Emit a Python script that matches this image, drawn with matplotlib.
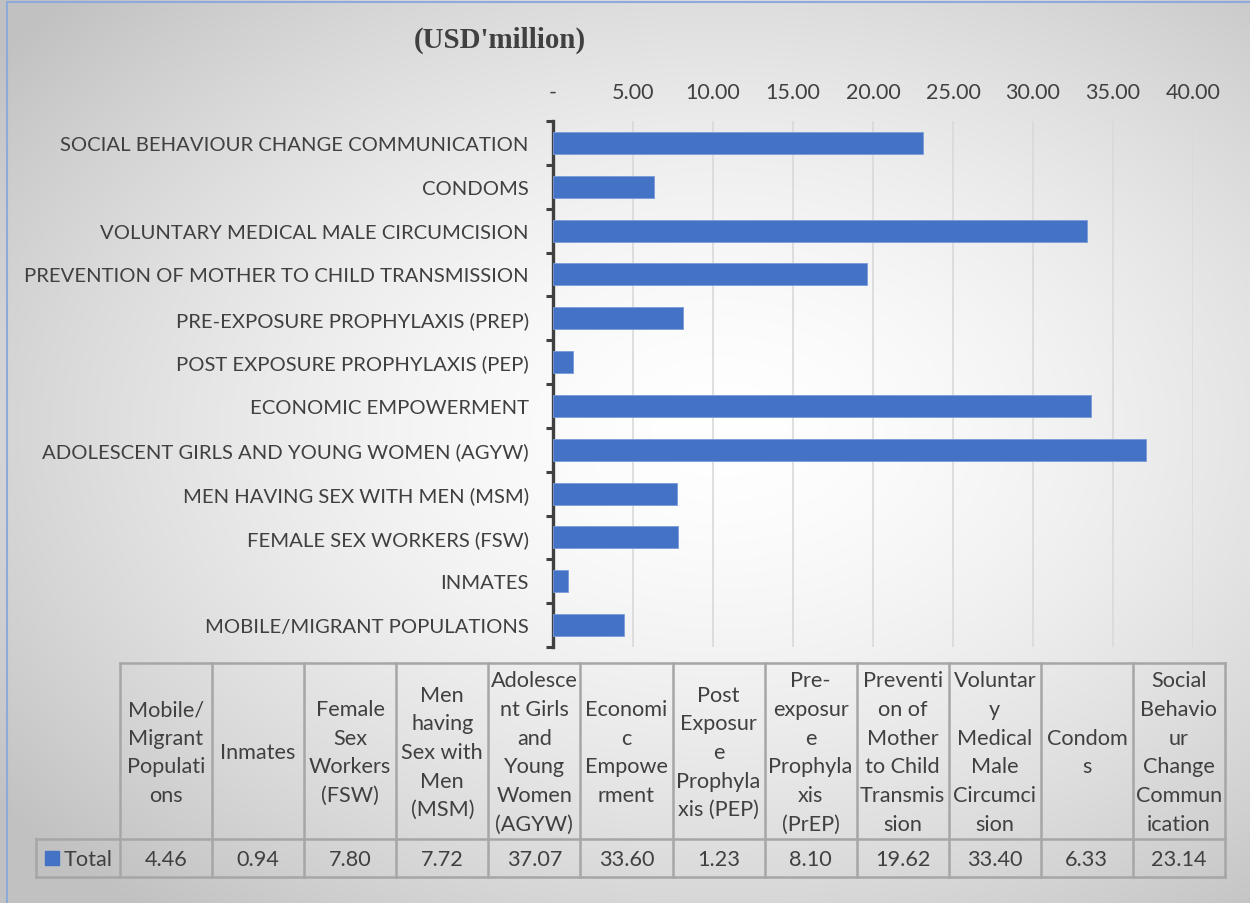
import numpy as np
import matplotlib
matplotlib.use("Agg")
import matplotlib.pyplot as plt
from matplotlib.patches import Rectangle
from matplotlib.lines import Line2D

# ---------------- data ----------------
categories = [
    "MOBILE/MIGRANT POPULATIONS",
    "INMATES",
    "FEMALE SEX WORKERS (FSW)",
    "MEN HAVING SEX WITH MEN (MSM)",
    "ADOLESCENT GIRLS AND YOUNG WOMEN (AGYW)",
    "ECONOMIC EMPOWERMENT",
    "POST EXPOSURE PROPHYLAXIS (PEP)",
    "PRE-EXPOSURE PROPHYLAXIS (PREP)",
    "PREVENTION OF MOTHER TO CHILD TRANSMISSION",
    "VOLUNTARY MEDICAL MALE CIRCUMCISION",
    "CONDOMS",
    "SOCIAL BEHAVIOUR CHANGE COMMUNICATION",
]
table_headers = [
    "Mobile/\nMigrant\nPopulati\nons",
    "Inmates",
    "Female\nSex\nWorkers\n(FSW)",
    "Men\nhaving\nSex with\nMen\n(MSM)",
    "Adolesce\nnt Girls\nand\nYoung\nWomen\n(AGYW)",
    "Economi\nc\nEmpowe\nrment",
    "Post\nExposur\ne\nProphyla\nxis (PEP)",
    "Pre-\nexposur\ne\nProphyla\nxis\n(PrEP)",
    "Preventi\non of\nMother\nto Child\nTransmis\nsion",
    "Voluntar\ny\nMedical\nMale\nCircumci\nsion",
    "Condom\ns",
    "Social\nBehavio\nur\nChange\nCommun\nication",
]
totals = [4.46, 0.94, 7.80, 7.72, 37.07, 33.60, 1.23, 8.10, 19.62, 33.40, 6.33, 23.14]
series_name = "Total"
x_ticks = [0, 5, 10, 15, 20, 25, 30, 35, 40]
title = "(USD'million)"

# ---------------- style ----------------
W, H = 1250, 904
BAR = "#4472C4"
TXT = "#404040"
FONT = "Lato"

fig = plt.figure(figsize=(W / 100, H / 100), dpi=100)

def fx(px):
    return px / W

def fy(py):
    return 1 - py / H

# background radial gradient
bg = fig.add_axes([0, 0, 1, 1], zorder=-10)
yy, xx = np.mgrid[0:H, 0:W]
d = np.sqrt(((xx - 720) / 900.0) ** 2 + ((yy - 430) / 620.0) ** 2)
d = np.clip(d, 0, 1)
val = 1.0 - 0.24 * d ** 1.6
img = np.dstack([val, val, val])
bg.imshow(img, extent=[0, W, H, 0], aspect="auto", interpolation="bilinear")
bg.set_xlim(0, W)
bg.set_ylim(H, 0)
bg.axis("off")
# blue border (top and left visible)
bg.add_line(Line2D([7, 7], [3, H], color="#8EAADB", lw=1.5))
bg.add_line(Line2D([7, W], [3, 3], color="#8EAADB", lw=1.5))

# ---------------- bar chart ----------------
ax = fig.add_axes([fx(553), fy(648), fx(1193) - fx(553), (648 - 122) / H])
ax.patch.set_alpha(0)
y = np.arange(len(categories))
ax.barh(y, totals, height=0.5, color=BAR, edgecolor="#7A9BDA", linewidth=0.6, zorder=3)
ax.set_ylim(-0.5, len(categories) - 0.5)
ax.set_xlim(x_ticks[0], x_ticks[-1])
ax.set_xticks(x_ticks)
ax.set_xticklabels(["-" if t == 0 else f"{t:.2f}" for t in x_ticks],
                   fontname=FONT, fontsize=15.5, color=TXT)
ax.xaxis.tick_top()
ax.tick_params(axis="x", length=0, pad=14)
ax.set_yticks(np.arange(-0.5, len(categories), 1.0), minor=False)
ax.set_yticklabels([])
ax.set_yticks(y, minor=True)
ax.set_yticklabels(categories, minor=True, fontname=FONT, fontsize=14.6, color=TXT)
ax.tick_params(axis="y", which="minor", length=0, pad=17.5)
ax.tick_params(axis="y", which="major", length=5, width=2.2, color=TXT, direction="out")
ax.grid(axis="x", color="#D9D9D9", lw=1.2, zorder=0)
for s in ["top", "right", "bottom"]:
    ax.spines[s].set_visible(False)
ax.spines["left"].set_color(TXT)
ax.spines["left"].set_linewidth(2.4)

# title
fig.text(fx(500), fy(40), title, ha="center", va="center", fontname="Liberation Serif",
         fontweight="bold", fontsize=20.8, color=TXT)

# ---------------- data table ----------------
tax = fig.add_axes([0, 0, 1, 1], zorder=5)
tax.set_xlim(0, W)
tax.set_ylim(H, 0)
tax.axis("off")
tax.patch.set_alpha(0)

label_left = 36
col_left = 120
col_right = 1225
ncol = len(totals)
cw = (col_right - col_left) / ncol
top, mid, bot = 664, 840, 878
LC = "#A6A6A6"
LW = 1.8

# horizontal lines
tax.add_line(Line2D([col_left, col_right], [top, top], color=LC, lw=LW))
tax.add_line(Line2D([label_left, col_right], [mid, mid], color=LC, lw=LW))
tax.add_line(Line2D([label_left, col_right], [bot, bot], color=LC, lw=LW))
# vertical lines
tax.add_line(Line2D([label_left, label_left], [mid, bot], color=LC, lw=LW))
for i in range(ncol + 1):
    xv = col_left + i * cw
    tax.add_line(Line2D([xv, xv], [top, bot], color=LC, lw=LW))

for i, (h, v) in enumerate(zip(table_headers, totals)):
    cx = col_left + (i + 0.5) * cw
    tax.text(cx, (top + mid) / 2 + 1, h, ha="center", va="center", fontname=FONT,
             fontsize=15.6, color=TXT, linespacing=1.54)
    tax.text(cx, (mid + bot) / 2 + 1, f"{v:.2f}", ha="center", va="center",
             fontname=FONT, fontsize=15.6, color=TXT)

tax.add_patch(Rectangle((45, 852), 14, 14, color=BAR))
tax.text(64, (mid + bot) / 2 + 1, series_name, ha="left", va="center", fontname=FONT,
         fontsize=15.6, color=TXT)

fig.savefig("out.png", dpi=100)
